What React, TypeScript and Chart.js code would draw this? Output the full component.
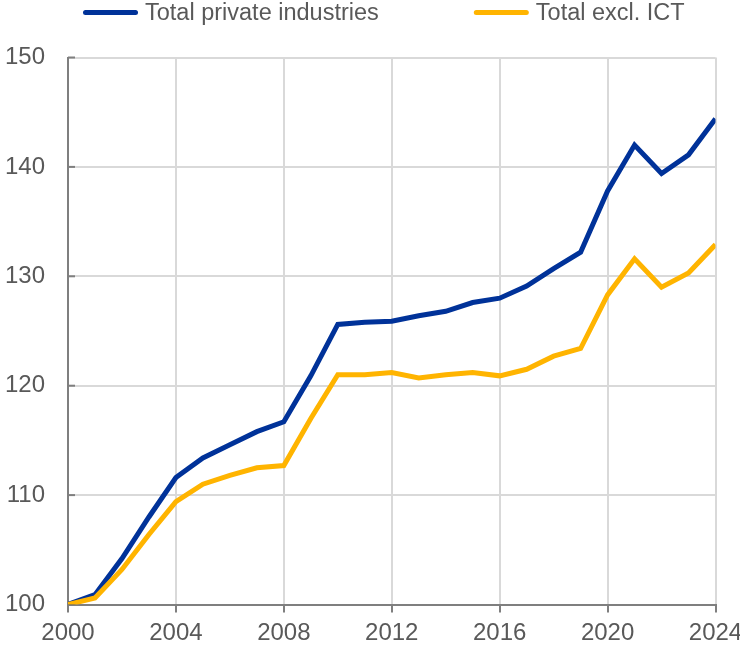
import { useEffect, useRef } from "react";
import { Chart, registerables } from "chart.js";

Chart.register(...registerables);

const years = [
  2000, 2001, 2002, 2003, 2004, 2005, 2006, 2007, 2008, 2009, 2010, 2011, 2012,
  2013, 2014, 2015, 2016, 2017, 2018, 2019, 2020, 2021, 2022, 2023, 2024,
];
const totalPrivate = [
  100.0, 100.9, 104.2, 108.0, 111.6, 113.4, 114.6, 115.8, 116.7, 120.9, 125.6,
  125.8, 125.9, 126.4, 126.8, 127.6, 128.0, 129.1, 130.7, 132.2, 137.8, 142.0,
  139.4, 141.1, 144.4,
];
const totalExclICT = [
  100.0, 100.6, 103.2, 106.4, 109.4, 111.0, 111.8, 112.5, 112.7, 117.0, 121.0,
  121.0, 121.2, 120.7, 121.0, 121.2, 120.9, 121.5, 122.7, 123.4, 128.3, 131.6,
  129.0, 130.3, 132.9,
];
const seriesLabels = ["Total private industries", "Total excl. ICT"];
const seriesColors = ["#003299", "#ffb400"];

const FONT = "'Liberation Sans', Arial, sans-serif";
const TEXT = "#595959";
const AXIS = "#7f7f7f";
const GRID = "#d9d9d9";

export default function App() {
  const ref = useRef<HTMLCanvasElement>(null);

  useEffect(() => {
    document.body.style.margin = "0";
    if (!ref.current) return;

    const legendPlugin = {
      id: "topLegend",
      afterDraw(chart: any) {
        const ctx = chart.ctx as CanvasRenderingContext2D;
        ctx.save();
        ctx.font = `23.5px ${FONT}`;
        let x = 83;
        chart.data.datasets.forEach((ds: any) => {
          ctx.strokeStyle = ds.borderColor;
          ctx.lineWidth = 5;
          ctx.lineCap = "round";
          ctx.beginPath();
          ctx.moveTo(x + 2.5, 12.5);
          ctx.lineTo(x + 52.5, 12.5);
          ctx.stroke();
          ctx.fillStyle = TEXT;
          ctx.textBaseline = "alphabetic";
          ctx.textAlign = "left";
          ctx.fillText(ds.label, x + 62, 19.5);
          x += 62 + ctx.measureText(ds.label).width + 95;
        });
        ctx.restore();
      },
    };

    const innerTicks = {
      id: "innerTicks",
      beforeDatasetsDraw(chart: any) {
        const ctx = chart.ctx as CanvasRenderingContext2D;
        const y = chart.scales.y;
        const left = chart.chartArea.left;
        ctx.save();
        ctx.strokeStyle = AXIS;
        ctx.lineWidth = 2;
        y.ticks.forEach((t: any) => {
          const py = y.getPixelForValue(t.value);
          ctx.beginPath();
          ctx.moveTo(left, py);
          ctx.lineTo(left + 7, py);
          ctx.stroke();
        });
        ctx.restore();
      },
    };

    const chart = new Chart(ref.current, {
      type: "line",
      data: {
        datasets: [
          {
            label: seriesLabels[0],
            data: years.map((yr, i) => ({ x: yr, y: totalPrivate[i] })),
            borderColor: seriesColors[0],
            backgroundColor: seriesColors[0],
            order: 2,
          },
          {
            label: seriesLabels[1],
            data: years.map((yr, i) => ({ x: yr, y: totalExclICT[i] })),
            borderColor: seriesColors[1],
            backgroundColor: seriesColors[1],
            order: 1,
          },
        ],
      },
      options: {
        animation: false,
        responsive: true,
        maintainAspectRatio: false,
        layout: { padding: { top: 57.5, right: 44.5, bottom: 0, left: 0 } },
        elements: {
          line: { borderWidth: 5, tension: 0, borderJoinStyle: "miter" },
          point: { radius: 0, hoverRadius: 0 },
        },
        plugins: {
          legend: { display: false },
          tooltip: { enabled: false },
        },
        scales: {
          x: {
            type: "linear",
            min: 2000,
            max: 2024,
            ticks: {
              stepSize: 4,
              color: TEXT,
              font: { size: 24, family: FONT },
              padding: 6,
              maxRotation: 0,
              autoSkip: false,
              callback: (v: any) => String(v),
            },
            grid: {
              color: GRID,
              lineWidth: 2,
              tickLength: 8,
              tickColor: AXIS,
              tickWidth: 2,
            },
            border: { color: AXIS, width: 2 },
            afterFit: (s: any) => {
              s.height = 43.5;
            },
          },
          y: {
            min: 100,
            max: 150,
            ticks: {
              stepSize: 10,
              color: TEXT,
              font: { size: 24, family: FONT },
              padding: 23,
            },
            grid: { color: GRID, lineWidth: 2, drawTicks: false },
            border: { color: AXIS, width: 2 },
            afterFit: (s: any) => {
              s.width = 68;
            },
          },
        },
      },
      plugins: [legendPlugin, innerTicks],
    });

    return () => chart.destroy();
  }, []);

  return (
    <div style={{ width: 740, height: 648, overflow: "hidden", position: "relative" }}>
      <div style={{ width: 760, height: 648, position: "absolute", left: 0, top: 0 }}>
        <canvas ref={ref} />
      </div>
    </div>
  );
}
